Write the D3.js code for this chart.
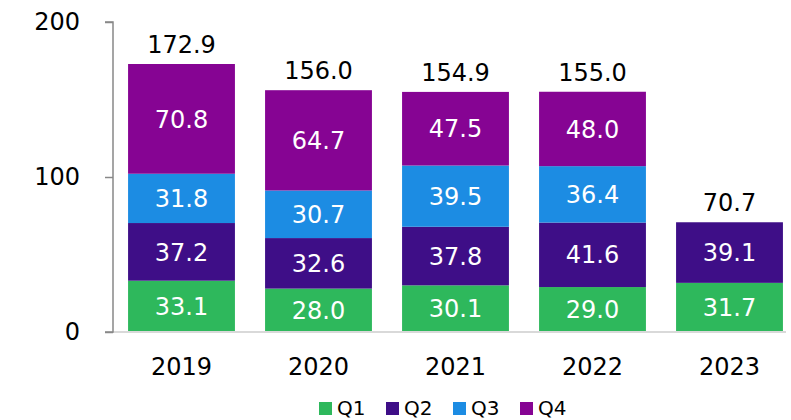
<!DOCTYPE html>
<meta charset="utf-8">
<style>
  body { margin: 0; background: #fff; }
  text { font-family: "DejaVu Sans", Verdana, sans-serif; }
</style>
<svg width="791" height="420"></svg>
<script src="https://d3js.org/d3.v7.min.js"></script>
<script>
// data
var years = ["2019", "2020", "2021", "2022", "2023"];
var q1 = [33.1, 28.0, 30.1, 29.0, 31.7];
var q2 = [37.2, 32.6, 37.8, 41.6, 39.1];
var q3 = [31.8, 30.7, 39.5, 36.4, null];
var q4 = [70.8, 64.7, 47.5, 48.0, null];
var totals = [172.9, 156.0, 154.9, 155.0, 70.7];
var quarters = ["Q1", "Q2", "Q3", "Q4"];
var colors = ["#2eb85c", "#3e0e87", "#1c8ce3", "#860493"];
var yTicks = [0, 100, 200];

var svg = d3.select("svg");

var x = d3.scaleBand()
  .domain(years)
  .range([113, 798])
  .paddingInner(0.22)
  .paddingOuter(0.11);

var y = d3.scaleLinear()
  .domain([0, 200])
  .range([332, 22]);

var rows = years.map(function(yr, i) {
  return { year: yr, Q1: q1[i] || 0, Q2: q2[i] || 0, Q3: q3[i] || 0, Q4: q4[i] || 0 };
});
var series = d3.stack().keys(quarters)(rows);

// bars
var layer = svg.selectAll(".layer")
  .data(series)
  .enter().append("g")
  .attr("fill", function(d, i) { return colors[i]; });

layer.selectAll("rect")
  .data(function(d) { return d.filter(function(s) { return s[1] > s[0]; }); })
  .enter().append("rect")
  .attr("x", function(d) { return x(d.data.year); })
  .attr("width", x.bandwidth())
  .attr("y", function(d) { return y(d[1]); })
  .attr("height", function(d) { return y(d[0]) - y(d[1]); });

layer.selectAll("text")
  .data(function(d) { return d.filter(function(s) { return s[1] > s[0]; }); })
  .enter().append("text")
  .attr("x", function(d) { return x(d.data.year) + x.bandwidth() / 2; })
  .attr("y", function(d) { return (y(d[0]) + y(d[1])) / 2; })
  .attr("dy", "0.36em")
  .attr("text-anchor", "middle")
  .attr("fill", "#fff")
  .style("font-size", "24px")
  .text(function(d) { return (d[1] - d[0]).toFixed(1); });

// totals
svg.selectAll(".total")
  .data(years)
  .enter().append("text")
  .attr("x", function(d) { return x(d) + x.bandwidth() / 2; })
  .attr("y", function(d, i) { return y(totals[i]) - 11; })
  .attr("text-anchor", "middle")
  .attr("fill", "#000")
  .style("font-size", "24px")
  .text(function(d, i) { return totals[i].toFixed(1); });

// x axis
svg.append("line")
  .attr("x1", 113).attr("x2", 786)
  .attr("y1", y(0)).attr("y2", y(0))
  .attr("stroke", "#d9d9d9").attr("stroke-width", 2);

svg.selectAll(".xlab")
  .data(years)
  .enter().append("text")
  .attr("x", function(d) { return x(d) + x.bandwidth() / 2; })
  .attr("y", 375)
  .attr("text-anchor", "middle")
  .style("font-size", "24px")
  .text(function(d) { return d; });

// y axis
var yAxis = svg.append("g")
  .attr("transform", "translate(113,0)")
  .call(d3.axisLeft(y).tickValues(yTicks).tickSize(8).tickPadding(25));
yAxis.selectAll("path, line").attr("stroke", "#888").attr("stroke-width", 1.5);
yAxis.select(".domain").attr("d", "M-8," + y(200) + "H0V" + y(0) + "H-8");
yAxis.selectAll("text")
  .attr("fill", "#000")
  .style("font-family", "'DejaVu Sans', Verdana, sans-serif")
  .style("font-size", "24px");

// legend
var legend = svg.selectAll(".leg")
  .data(quarters)
  .enter().append("g")
  .attr("transform", function(d, i) { return "translate(" + (319 + i * 67) + ",402)"; });
legend.append("rect")
  .attr("width", 13).attr("height", 13)
  .attr("fill", function(d, i) { return colors[i]; });
legend.append("text")
  .attr("x", 18).attr("y", 13)
  .style("font-size", "20px")
  .text(function(d) { return d; });
</script>
